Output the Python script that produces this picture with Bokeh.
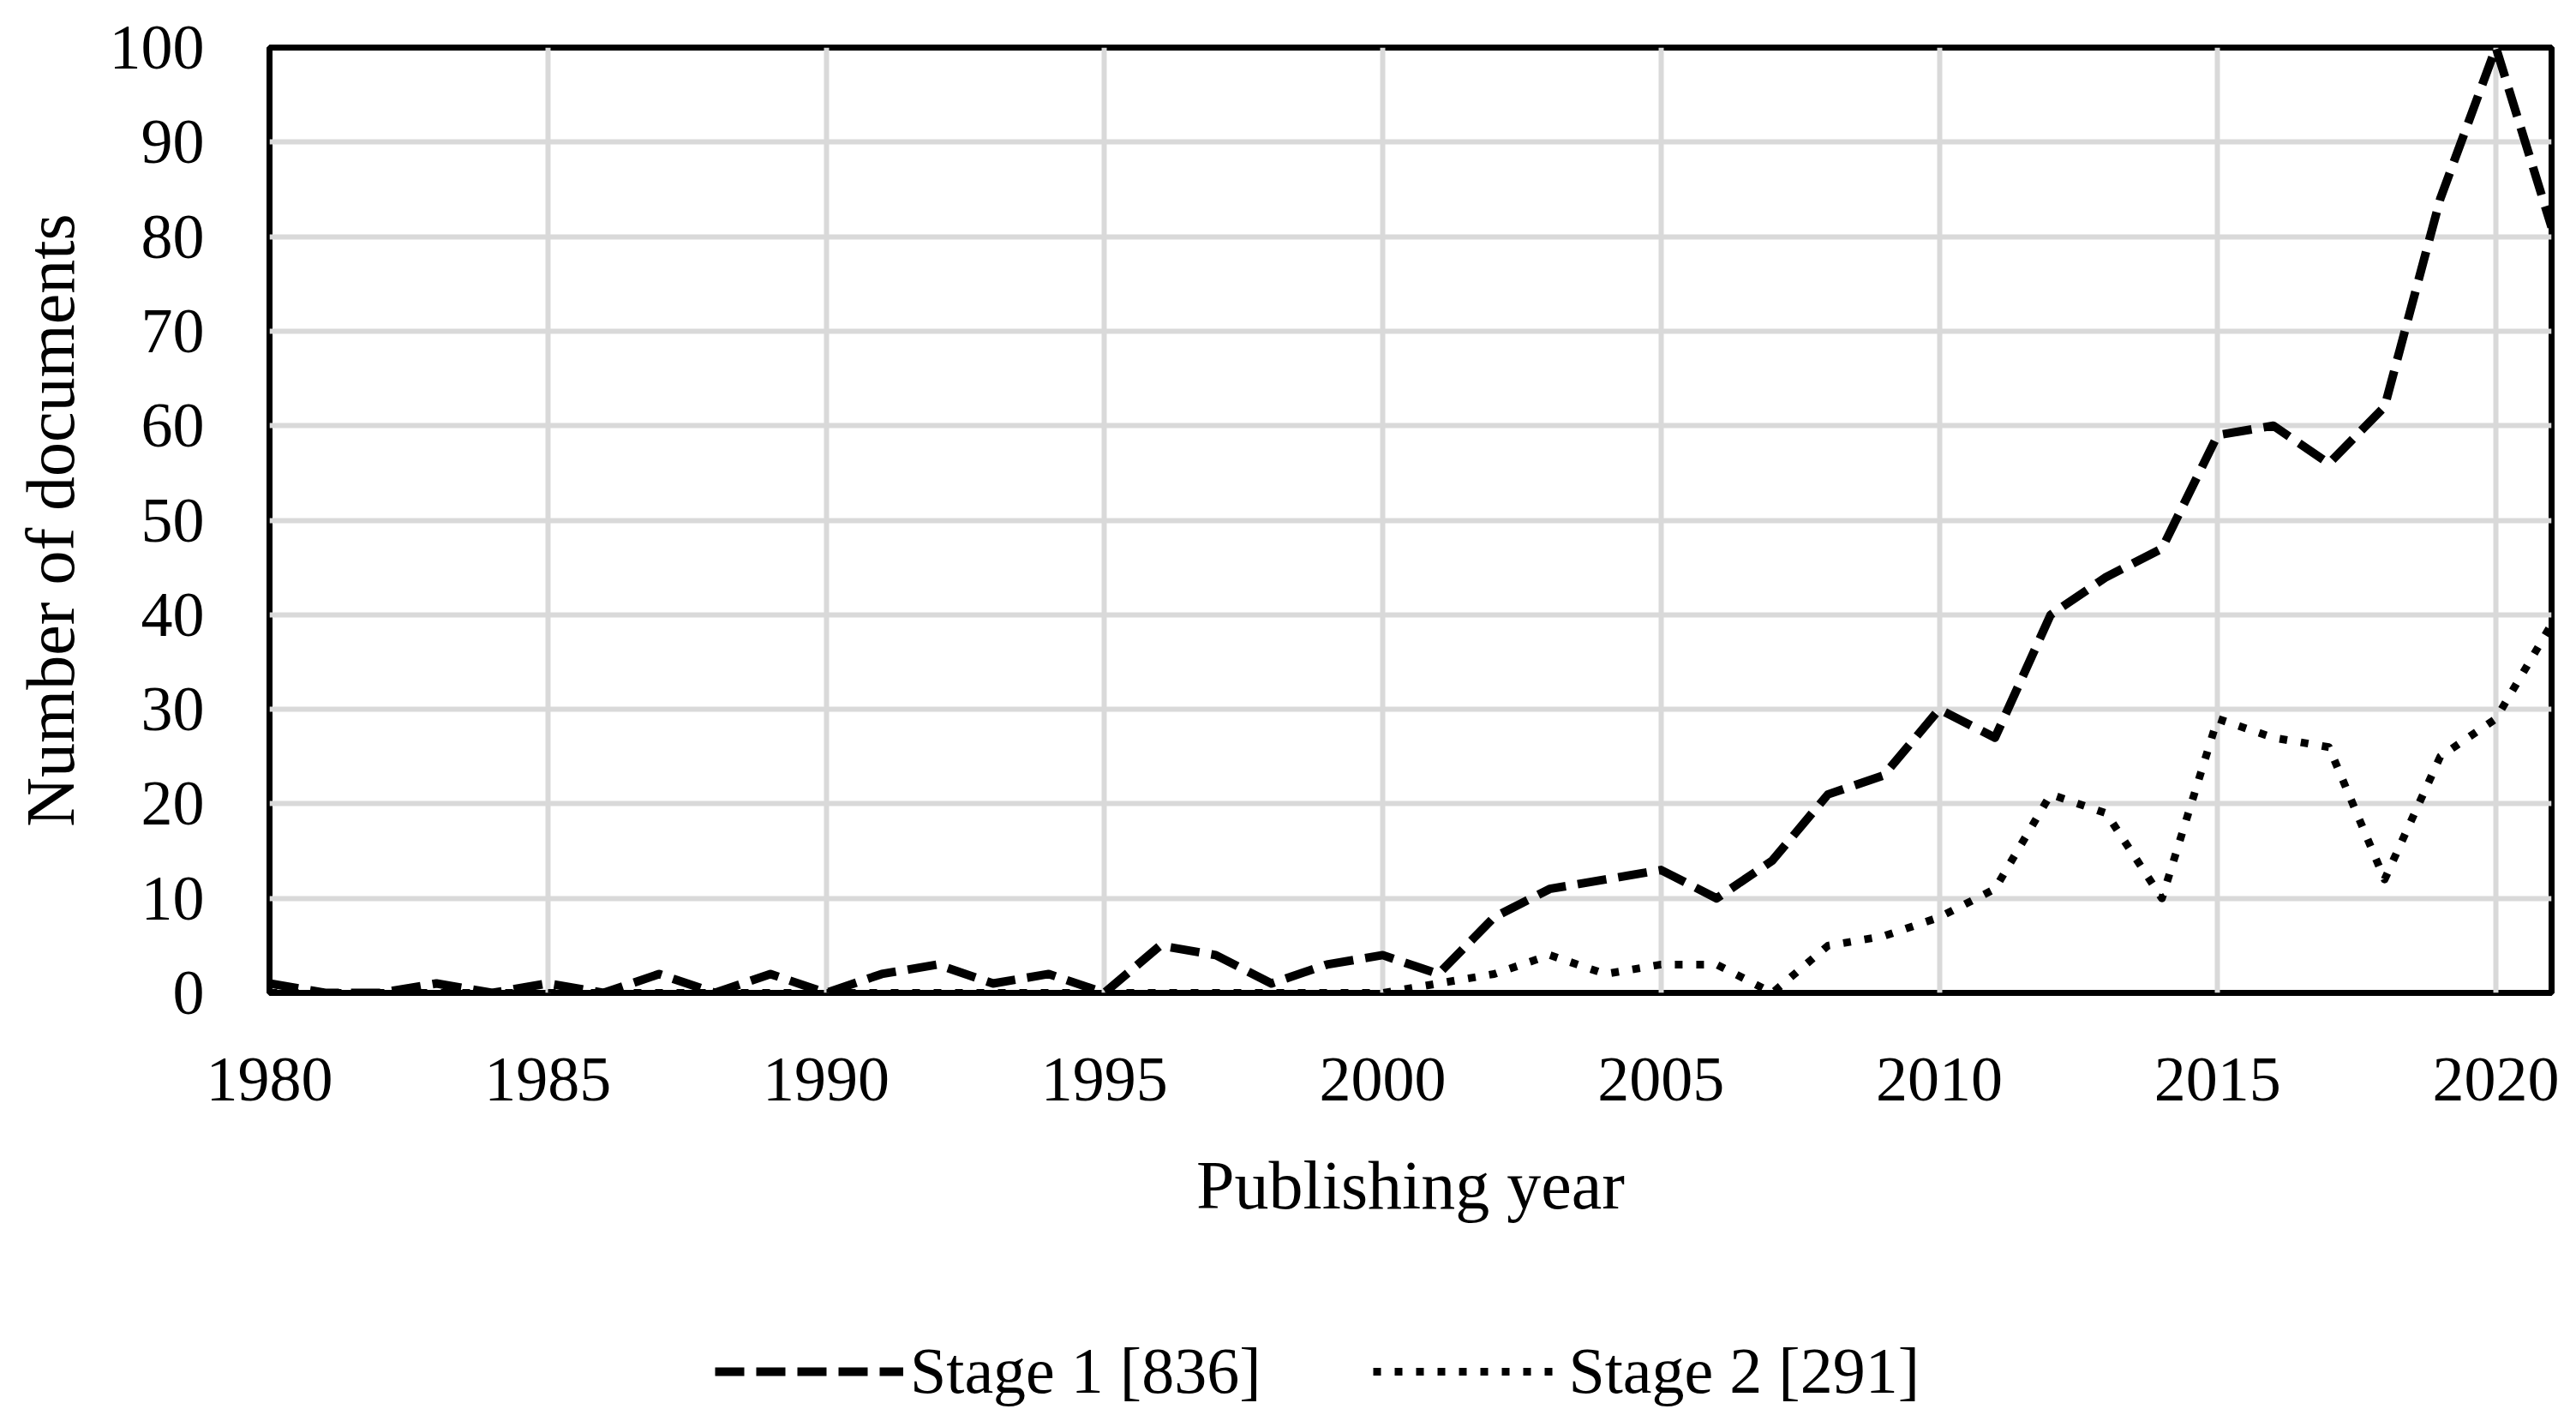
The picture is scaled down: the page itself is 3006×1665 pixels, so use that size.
from bokeh.plotting import figure
from bokeh.layouts import column
from bokeh.models import Range1d, FixedTicker, Legend, LegendItem
from bokeh.embed import file_html
from bokeh.resources import INLINE

years = [1980, 1981, 1982, 1983, 1984, 1985, 1986, 1987, 1988, 1989,
         1990, 1991, 1992, 1993, 1994, 1995, 1996, 1997, 1998, 1999,
         2000, 2001, 2002, 2003, 2004, 2005, 2006, 2007, 2008, 2009,
         2010, 2011, 2012, 2013, 2014, 2015, 2016, 2017, 2018, 2019,
         2020, 2021]
stage1 = [1, 0, 0, 1, 0, 1, 0, 2, 0, 2,
          0, 2, 3, 1, 2, 0, 5, 4, 1, 3,
          4, 2, 8, 11, 12, 13, 10, 14, 21, 23,
          30, 27, 40, 44, 47, 59, 60, 56, 62, 84,
          100, 81]
stage2 = [0, 0, 0, 0, 0, 0, 0, 0, 0, 0,
          0, 0, 0, 0, 0, 0, 0, 0, 0, 0,
          0, 1, 2, 4, 2, 3, 3, 0, 5, 6,
          8, 11, 21, 19, 10, 29, 27, 26, 12, 25,
          29, 39]
x_ticks = [1980, 1985, 1990, 1995, 2000, 2005, 2010, 2015, 2020]
y_ticks = [0, 10, 20, 30, 40, 50, 60, 70, 80, 90, 100]
series_labels = ["Stage 1 [836]", "Stage 2 [291]"]
x_title = "Publishing year"
y_title = "Number of documents"

FONT = "Liberation Serif"
S1 = dict(line_color="black", line_width=10, line_dash="34 14", line_join="round")
S2 = dict(line_color="black", line_width=9, line_dash="9 16", line_join="round")

p = figure(width=2990, height=1470, output_backend="svg", toolbar_location=None,
           x_range=Range1d(1980, 2021), y_range=Range1d(0, 100),
           min_border_left=314, min_border_right=13, min_border_top=55,
           min_border_bottom=312)

p.background_fill_color = "white"
p.border_fill_color = "white"
p.outline_line_color = "black"
p.outline_line_width = 7

for ax in (p.xaxis, p.yaxis):
    ax.axis_line_color = None
    ax.major_tick_line_color = None
    ax.minor_tick_line_color = None
    ax.major_label_text_font = FONT
    ax.major_label_text_font_size = "74px"
    ax.major_label_text_color = "black"
    ax.axis_label_text_font = FONT
    ax.axis_label_text_font_size = "80px"
    ax.axis_label_text_font_style = "normal"
    ax.axis_label_text_color = "black"

p.xaxis.ticker = FixedTicker(ticks=x_ticks)
p.yaxis.ticker = FixedTicker(ticks=y_ticks)
p.xaxis.major_label_standoff = 70
p.yaxis.major_label_standoff = 70
p.xaxis.axis_label = x_title
p.yaxis.axis_label = y_title
p.xaxis.axis_label_standoff = 52
p.yaxis.axis_label_standoff = 22

p.xgrid.ticker = FixedTicker(ticks=x_ticks)
p.ygrid.ticker = FixedTicker(ticks=y_ticks)
for g in (p.xgrid, p.ygrid):
    g.grid_line_color = "#d9d9d9"
    g.grid_line_width = 6

p.line(years, stage1, **S1)
p.line(years, stage2, **S2)

# legend strip below the chart (its lines fall outside its range; only the legend shows)
lg = figure(width=2990, height=185, output_backend="svg", toolbar_location=None,
            x_range=Range1d(0, 1), y_range=Range1d(0, 1),
            min_border_left=314, min_border_right=13, min_border_top=0,
            min_border_bottom=0)
lg.outline_line_color = None
lg.background_fill_color = "white"
lg.border_fill_color = "white"
lg.xaxis.visible = False
lg.yaxis.visible = False
lg.xgrid.visible = False
lg.ygrid.visible = False
l1 = lg.line(years, stage1, **S1)
l2 = lg.line(years, stage2, **S2)

legend = Legend(items=[LegendItem(label=series_labels[0], renderers=[l1]),
                       LegendItem(label=series_labels[1], renderers=[l2])],
                location=(520, 12), orientation="horizontal")
legend.label_text_font = FONT
legend.label_text_font_size = "76px"
legend.label_text_color = "black"
legend.glyph_width = 220
legend.glyph_height = 40
legend.label_standoff = 8
legend.spacing = 131
legend.padding = 0
legend.margin = 0
legend.border_line_color = None
legend.background_fill_alpha = 0
lg.add_layout(legend, "center")

layout = column(p, lg, spacing=0)
open("out.html", "w").write(file_html(layout, INLINE))
